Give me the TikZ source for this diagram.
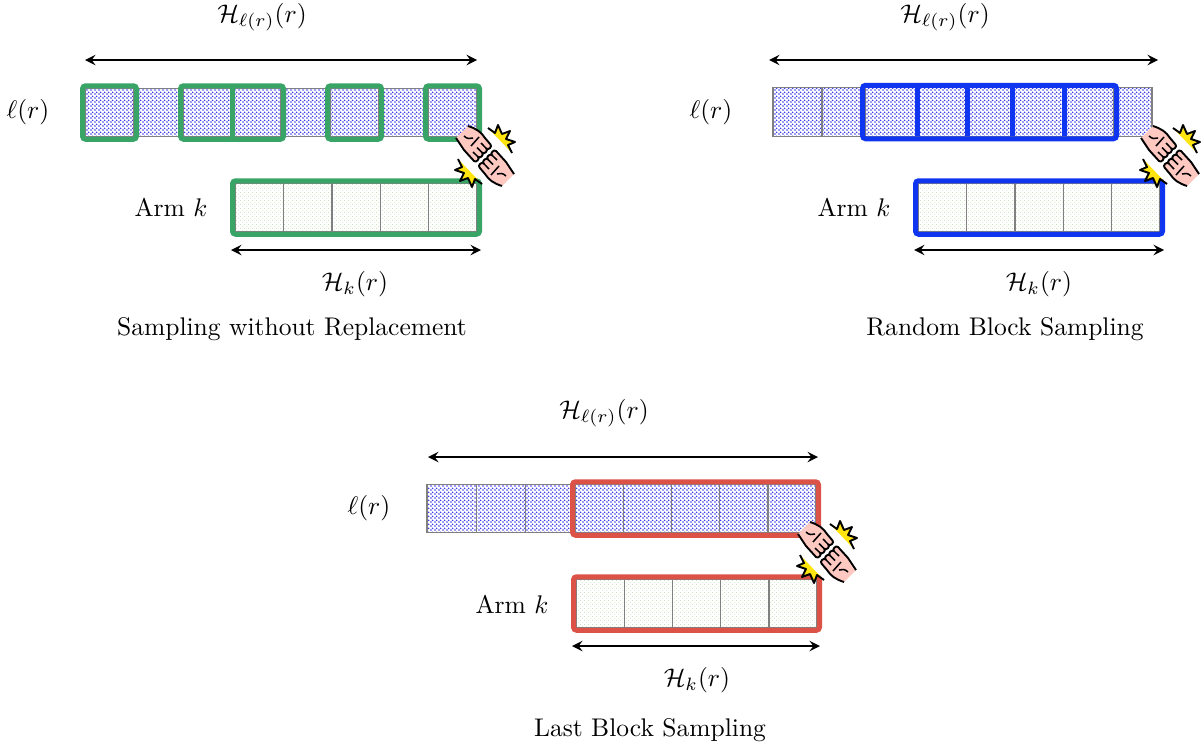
\documentclass[tikz,border=0pt]{standalone}
\usepackage{tikz}
\usetikzlibrary{arrows,positioning,patterns}

\pgfdeclarepatternformonly{fineblue}{\pgfqpoint{-0.5pt}{-0.5pt}}{\pgfqpoint{1.068pt}{1.068pt}}{\pgfqpoint{1.568pt}{1.568pt}}{
  \pgfpathcircle{\pgfqpoint{0pt}{0pt}}{0.41pt}
  \pgfpathcircle{\pgfqpoint{0.784pt}{0.784pt}}{0.41pt}
  \pgfusepath{fill}
}
\pgfdeclarepatternformonly{finegreen}{\pgfqpoint{-0.4pt}{-0.4pt}}{\pgfqpoint{1.168pt}{1.168pt}}{\pgfqpoint{1.568pt}{1.568pt}}{
  \pgfpathcircle{\pgfqpoint{0pt}{0pt}}{0.24pt}
  \pgfpathcircle{\pgfqpoint{0.784pt}{0.784pt}}{0.16pt}
  \pgfusepath{fill}
}

\definecolor{pickgreen}{HTML}{38A566}
\definecolor{pickblue}{HTML}{0F35F0}
\definecolor{pickred}{HTML}{DD5246}
\definecolor{fistpink}{HTML}{FFC9C2}
\definecolor{burstyellow}{HTML}{FFE40F}
\definecolor{blueink}{HTML}{3A3AE8}
\definecolor{greenink}{HTML}{A8D498}

\newcommand{\pickrect}[3]{\draw[pickbox, #1] ([shift={(-2.5,2.5)}]#2.south west) rectangle ([shift={(2.5,-2.5)}]#3.north east);}

\tikzset{
  cell/.style={draw=gray, line width=0.55pt, inner sep=0, outer sep=0, minimum height=48.5*0.392pt},
  topcell/.style={cell, pattern=fineblue, pattern color=blueink},
  armcell/.style={cell, pattern=finegreen, pattern color=greenink},
  pickbox/.style={line width=1.96pt, rounded corners=1.2pt},
  halfclash/.pic={
    \fill[burstyellow] (3,-28) -- (10,-23) -- (13,-31) -- (17,-22) -- (25,-25) -- (21,-17) -- (30,-14) -- (23,-11) -- (27,-3) -- cycle;
    \draw[line width=0.75pt, line join=round] (3,-28) -- (10,-23) -- (13,-31) -- (17,-22) -- (25,-25) -- (21,-17) -- (30,-14) -- (23,-11) -- (27,-3);
    \fill[fistpink] (-29,-18) -- (-17,-30) .. controls (-8,-27) and (-4,-24) .. (0,-18) -- (5.5,-11.5) .. controls (7.5,-9.5) and (3.4,-5.4) .. (1.4,-7.4) .. controls (3.4,-5.4) and (-0.75,-1.25) .. (-2.75,-3.25) .. controls (-0.75,-1.25) and (-4.9,2.9) .. (-6.9,0.9) .. controls (-4.9,2.9) and (-9,7) .. (-11,5) -- (-21,-6) -- cycle;
    \draw[line width=0.75pt, line join=round] (-17,-30) .. controls (-8,-27) and (-4,-24) .. (0,-18) -- (5.5,-11.5) .. controls (7.5,-9.5) and (3.4,-5.4) .. (1.4,-7.4) .. controls (3.4,-5.4) and (-0.75,-1.25) .. (-2.75,-3.25) .. controls (-0.75,-1.25) and (-4.9,2.9) .. (-6.9,0.9) .. controls (-4.9,2.9) and (-9,7) .. (-11,5) -- (-21,-6) -- (-29,-18);
    \draw[line width=0.6pt] (-21,-20) .. controls (-18,-17) and (-15,-17) .. (-12,-18);
    \draw[line width=0.6pt] (-6,-19) -- (-14,-10) (1.4,-7.4) -- (-4,-13) (-2.75,-3.25) -- (-8,-8.5) (-6.9,0.9) -- (-12,-4);
  },
  clash/.pic={
    \pic {halfclash};
    \pic[rotate=180] {halfclash};
  }
}

\begin{document}
\begin{tikzpicture}[x=0.392pt, y=-0.392pt, thick, >=stealth]
        \useasboundingbox (0, 0) rectangle (1203, 749);

        % without replacement
        \coordinate (a-top-0) at (85, 112.5);
        \coordinate (a-arm-0) at (235, 207.5);
        \foreach \w [count=\i, evaluate=\i as \j using int(\i-1)] in {49,49,49,49,49,49,49,49}
          \node[topcell, minimum width=\w*0.392pt, right=0pt of a-top-\j] (a-top-\i) {};
        \foreach \w [count=\i, evaluate=\i as \j using int(\i-1)] in {48.4,48.4,48.4,48.4,48.4}
          \node[armcell, minimum width=\w*0.392pt, right=0pt of a-arm-\j] (a-arm-\i) {};
        \pickrect{pickgreen}{a-top-1}{a-top-1}
        \pickrect{pickgreen}{a-top-3}{a-top-4}
        \draw[pickbox, pickgreen] (a-top-3.south east) -- (a-top-3.north east);
        \pickrect{pickgreen}{a-top-6}{a-top-6}
        \pickrect{pickgreen}{a-top-8}{a-top-8}
        \pickrect{pickgreen}{a-arm-1}{a-arm-5}
        \node (a-top-l) at (28, 112) {$\ell(r)$};
        \node (a-arm-l) at (171, 207) {Arm $k$};
        \coordinate (a-top-s) at (85, 60);
        \coordinate (a-top-e) at (477, 60);
        \coordinate (a-arm-s) at (231, 250);
        \coordinate (a-arm-e) at (481, 250);
        \draw[<->] (a-top-s) -- (a-top-e);
        \draw[<->] (a-arm-s) -- (a-arm-e);
        \node (a-top-h) at (262, 17) {$\mathcal{H}_{\ell(r)}(r)$};
        \node (a-arm-h) at (355, 284) {$\mathcal{H}_k(r)$};
        \node (a-caption) at (292, 329) {Sampling without Replacement};
        \pic at (485, 156) {clash};

        % random block
        \coordinate (b-top-0) at (773, 112);
        \coordinate (b-arm-0) at (918, 207.5);
        \foreach \w [count=\i, evaluate=\i as \j using int(\i-1)] in {49,43,52,50,45,52,50,38}
          \node[topcell, minimum width=\w*0.392pt, right=0pt of b-top-\j] (b-top-\i) {};
        \foreach \w [count=\i, evaluate=\i as \j using int(\i-1)] in {48.4,48.4,48.4,48.4,48.4}
          \node[armcell, minimum width=\w*0.392pt, right=0pt of b-arm-\j] (b-arm-\i) {};
        \pickrect{pickblue}{b-top-3}{b-top-7}
        \foreach \i in {3,...,6}
          \draw[pickbox, pickblue] (b-top-\i.south east) -- (b-top-\i.north east);
        \pickrect{pickblue}{b-arm-1}{b-arm-5}
        \node (b-top-l) at (711, 112) {$\ell(r)$};
        \node (b-arm-l) at (854, 207) {Arm $k$};
        \coordinate (b-top-s) at (769, 60);
        \coordinate (b-top-e) at (1158, 60);
        \coordinate (b-arm-s) at (914, 250);
        \coordinate (b-arm-e) at (1164, 250);
        \draw[<->] (b-top-s) -- (b-top-e);
        \draw[<->] (b-arm-s) -- (b-arm-e);
        \node (b-top-h) at (945, 17) {$\mathcal{H}_{\ell(r)}(r)$};
        \node (b-arm-h) at (1039, 284) {$\mathcal{H}_k(r)$};
        \node (b-caption) at (1005, 329) {Random Block Sampling};
        \pic at (1170, 156) {clash};

        % last block
        \coordinate (c-top-0) at (427, 508.5);
        \coordinate (c-arm-0) at (576, 603.5);
        \foreach \w [count=\i, evaluate=\i as \j using int(\i-1)] in {49.3,49.3,49.4,48.2,48.2,48.2,48.2,48.2}
          \node[topcell, minimum width=\w*0.392pt, right=0pt of c-top-\j] (c-top-\i) {};
        \foreach \w [count=\i, evaluate=\i as \j using int(\i-1)] in {48.2,48.2,48.2,48.2,48.2}
          \node[armcell, minimum width=\w*0.392pt, right=0pt of c-arm-\j] (c-arm-\i) {};
        \pickrect{pickred}{c-top-4}{c-top-8}
        \pickrect{pickred}{c-arm-1}{c-arm-5}
        \node (c-top-l) at (369, 508) {$\ell(r)$};
        \node (c-arm-l) at (512, 604) {Arm $k$};
        \coordinate (c-top-s) at (428, 457);
        \coordinate (c-top-e) at (818, 457);
        \coordinate (c-arm-s) at (572, 646);
        \coordinate (c-arm-e) at (820, 646);
        \draw[<->] (c-top-s) -- (c-top-e);
        \draw[<->] (c-arm-s) -- (c-arm-e);
        \node (c-top-h) at (604, 413) {$\mathcal{H}_{\ell(r)}(r)$};
        \node (c-arm-h) at (697, 680) {$\mathcal{H}_k(r)$};
        \node (c-caption) at (650, 730) {Last Block Sampling};
        \pic at (827, 552) {clash};
\end{tikzpicture}
\end{document}
